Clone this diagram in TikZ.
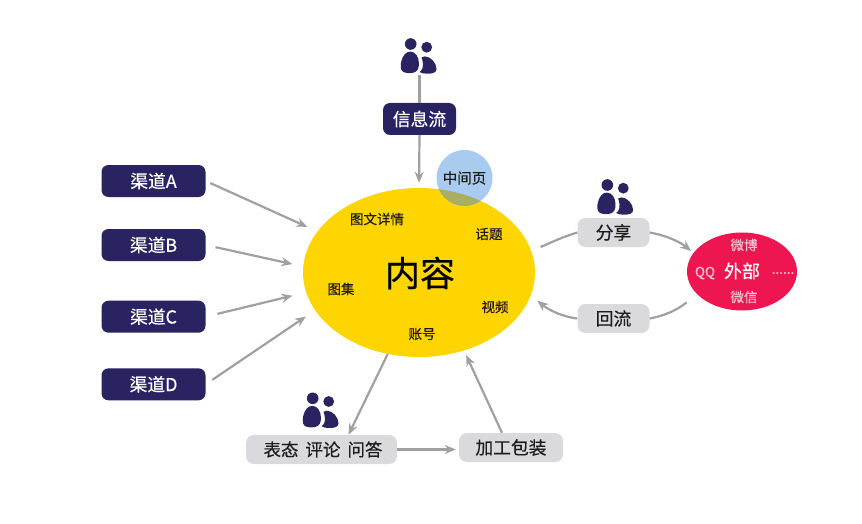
\documentclass[tikz,border=0pt]{standalone}
\usepackage{fontspec}
\setmainfont{Noto Sans CJK SC}[FakeBold=0.35]
\usetikzlibrary{arrows.meta,calc,shapes.geometric}
\definecolor{navy}{HTML}{2A2362}
\definecolor{sun}{HTML}{FFD500}
\definecolor{sky}{HTML}{A9CBF0}
\definecolor{olive}{HTML}{A8AE62}
\definecolor{pale}{HTML}{DADADD}
\definecolor{rose}{HTML}{EE1650}
\definecolor{wire}{HTML}{A0A0A3}
\definecolor{ink}{HTML}{1C1C1C}
\tikzset{
  navybox/.style={draw=none,fill=navy,rounded corners=7pt,text=white,font=\fontsize{17.8}{18}\selectfont,inner sep=0pt,minimum height=32pt},
  palebox/.style={draw=none,fill=pale,rounded corners=8pt,text=ink,font=\fontsize{17.8}{18}\selectfont,inner sep=0pt,minimum height=29pt},
  wirearrow/.style={draw=wire,line width=2.2pt,-{Stealth[length=11pt,width=9pt]}},
  wireplain/.style={draw=wire,line width=2.2pt},
  small/.style={text=ink,font=\fontsize{13.5}{14}\selectfont,inner sep=0pt},
  pink/.style={text=white!75!rose,font=\fontsize{13.5}{14}\selectfont,inner sep=0pt},
  people/.pic={
    \fill[navy] (0,0) circle (5.8);
    \fill[navy] (16,3.2) circle (5.4);
    \fill[navy] (-0.5,7.6) .. controls (5,7.6) and (8,13) .. (8.2,19) .. controls (8.4,24) and (7,28) .. (2,28.8)
       .. controls (-2,29.4) and (-6,29) .. (-8,27.5) .. controls (-10.5,25.5) and (-10.3,21) .. (-9.3,17)
       .. controls (-8,12) and (-5,7.6) .. (-0.5,7.6) -- cycle;
    \fill[navy] (14,12.4) .. controls (20,12.4) and (25.8,19) .. (25.8,25) .. controls (25.8,28.5) and (22,29.7) .. (17,29.7)
       .. controls (13.5,29.7) and (10.5,29.3) .. (8.8,28) .. controls (11.5,26.5) and (12.5,23) .. (12.2,19.5)
       .. controls (12,17) and (11.5,15) .. (10.8,13.5) -- cycle;
  }
}
\begin{document}
\begin{tikzpicture}[x=1pt,y=-1pt]
\useasboundingbox (0,0) rectangle (862,524);
\fill[white] (0,0) rectangle (862,524);

% main ellipse and overlapping circle
\node[draw=none,fill=sun,ellipse,minimum width=232pt,minimum height=169pt,inner sep=0pt] (neirong) at (419,272.5) {};
\node[circle,fill=sky,minimum size=56pt,inner sep=0pt] (zhongjian) at (464.5,178) {};
\begin{scope}
  \clip (464.5,178) circle (28);
  \fill[olive] (419,272.5) ellipse [x radius=116,y radius=84.5];
\end{scope}
\node[text=ink,font=\fontsize{14.5}{15}\selectfont,inner sep=0pt] (zjlabel) at (464.5,178) {中间页};
\node[text=black,font=\fontsize{35}{35}\selectfont,inner sep=0pt] (nrlabel) at (420,273) {内容};
\node[small] (t1) at (377,219) {图文详情};
\node[small] (t2) at (489,234) {话题};
\node[small] (t3) at (341,289) {图集};
\node[small] (t4) at (495,307) {视频};
\node[small] (t5) at (422,334) {账号};

% outside ellipse
\node[ellipse,fill=rose,minimum width=110pt,minimum height=78pt,inner sep=0pt] (waibu) at (742,271.5) {};
\node[text=white,font=\fontsize{18}{18}\selectfont,inner sep=0pt] (wblabel) at (742,271) {外部};
\node[pink] (qq) at (705,273) {QQ};
\node[pink] (wb) at (744,245) {微博};
\node[pink] (wx) at (744,297) {微信};
\node[pink] (more) at (783,273) {......};

% boxes
\node[navybox,minimum width=73pt] (xinxi) at (419.5,119) {信息流};
\node[navybox,minimum width=104pt] (chA) at (153.5,181) {渠道A\hspace{3pt}};
\node[navybox,minimum width=104pt] (chB) at (153.5,245) {渠道B\hspace{3pt}};
\node[navybox,minimum width=104pt] (chC) at (153.5,316.7) {渠道C\hspace{3pt}};
\node[navybox,minimum width=104pt] (chD) at (153.5,384.3) {渠道D\hspace{3pt}};
\node[palebox,minimum width=72pt] (fenxiang) at (613.5,232.5) {分享};
\node[palebox,minimum width=72pt] (huiliu) at (613.5,318.5) {回流};
\node[palebox,minimum width=151pt,font=\fontsize{17.5}{18}\selectfont,text width=151pt,align=center] (biaotai) at (321.5,449.5) {\hspace{3pt}表态\hspace{7pt}评论\hspace{7pt}问答};
\node[palebox,minimum width=104pt] (jiagong) at (511,447.5) {加工包装};

% people icons
\pic at (410.7,44) {people};
\pic at (607.3,185) {people};
\pic at (312.7,398.3) {people};
\coordinate (topicon) at (419.5,75);
\coordinate (shareend) at (691,251);
\coordinate (backstart) at (686.7,302.3);
\coordinate (backend) at (537.3,300.7);

% connectors
\draw[wireplain] (topicon) -- (xinxi.north);
\draw[wirearrow,shorten >=5pt] (xinxi.south) -- (neirong.north);
\draw[wirearrow,shorten <=5pt,shorten >=11pt] (chA.east) -- (neirong.158);
\draw[wirearrow,shorten <=10pt,shorten >=11pt] (chB.east) -- (neirong.177);
\draw[wirearrow,shorten <=12pt,shorten >=14pt] (chC.east) -- (neirong.190.5);
\draw[wirearrow,shorten <=8pt,shorten >=11pt] (chD.east) -- (neirong.200.7);
\draw[wirearrow] (neirong.249.4) -- ($(biaotai.north)+(27,0)$);
\draw[wirearrow,shorten >=3pt] (biaotai.east) -- (biaotai.east -| jiagong.west);
\draw[wirearrow,shorten >=5pt] ($(jiagong.north)+(-9,0)$) -- (neirong.300.7);
\draw[wireplain,shorten <=10pt] (neirong.11) .. controls (548,244) and (562,237) .. (fenxiang.west);
\draw[wirearrow] (fenxiang.east) .. controls (664,235) and (679,241) .. (shareend);
\draw[wireplain] (backstart) .. controls (676,311) and (663,316) .. (huiliu.east);
\draw[wirearrow] (huiliu.west) .. controls (564,317) and (550,311) .. (backend);
\end{tikzpicture}
\end{document}
